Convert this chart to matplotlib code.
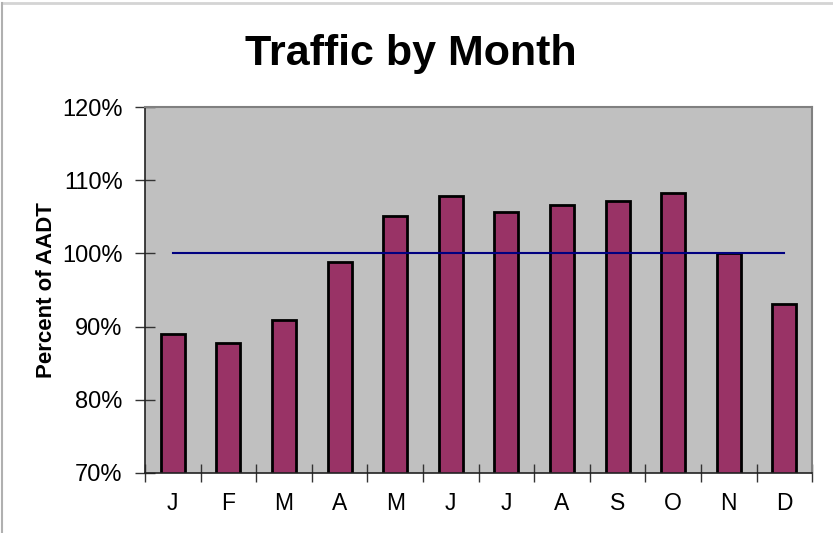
import numpy as np
import matplotlib
matplotlib.use("Agg")
import matplotlib.pyplot as plt
from matplotlib.lines import Line2D

months = ["J", "F", "M", "A", "M", "J", "J", "A", "S", "O", "N", "D"]
percent_aadt = [89.0, 87.8, 90.9, 98.8, 105.1, 107.9, 105.6, 106.6, 107.1, 108.3, 100.1, 93.1]
baseline = 100.0
y_ticks = [70, 80, 90, 100, 110, 120]

plt.rcParams['font.family'] = ['Liberation Sans', 'DejaVu Sans']

fig = plt.figure(figsize=(8.33, 5.33), dpi=100)
ax = fig.add_axes([0.174, 0.1126, 0.801, 0.6866])
ax.set_facecolor('#C0C0C0')

x = np.arange(len(months))
ax.bar(x, percent_aadt, width=0.43, bottom=0, color='#993366',
       edgecolor='black', linewidth=2, zorder=2)
ax.plot([x[0], x[-1]], [baseline, baseline], color='#000080', linewidth=1.5, zorder=3)

ax.set_xlim(-0.5, len(months) - 0.5)
ax.set_ylim(70, 120)
ax.set_yticks(y_ticks)
ax.set_yticklabels([f"{v}%" for v in y_ticks])
ax.set_xticks(np.arange(len(months) + 1) - 0.5)
ax.set_xticklabels([])
ax.set_xticks(x, minor=True)
ax.set_xticklabels(months, minor=True)
ax.tick_params(axis='x', which='major', direction='inout', length=13, width=1, color='#333333')
ax.tick_params(axis='x', which='minor', length=0, pad=14, labelsize=16.5)
ax.tick_params(axis='y', direction='inout', length=14, width=1, color='#333333',
               labelsize=17, pad=9)

for side in ['left', 'bottom']:
    ax.spines[side].set_color('#222222')
    ax.spines[side].set_linewidth(1.2)
for side in ['top', 'right']:
    ax.spines[side].set_color('#808080')
    ax.spines[side].set_linewidth(1.5)

ax.set_ylabel("Percent of AADT", fontsize=16, fontweight='bold', labelpad=4)
fig.text(0.493, 0.898, "Traffic by Month", fontsize=31, fontweight='bold',
         ha='center', va='center')

# chart frame (top and left edges)
fig.add_artist(Line2D([0.003, 1.0], [0.995, 0.995], transform=fig.transFigure,
                      color='#d4d4d4', linewidth=2))
fig.add_artist(Line2D([0.003, 0.003], [0.0, 0.995], transform=fig.transFigure,
                      color='#b0b0b0', linewidth=1.5))

fig.savefig("out.png", dpi=100)
